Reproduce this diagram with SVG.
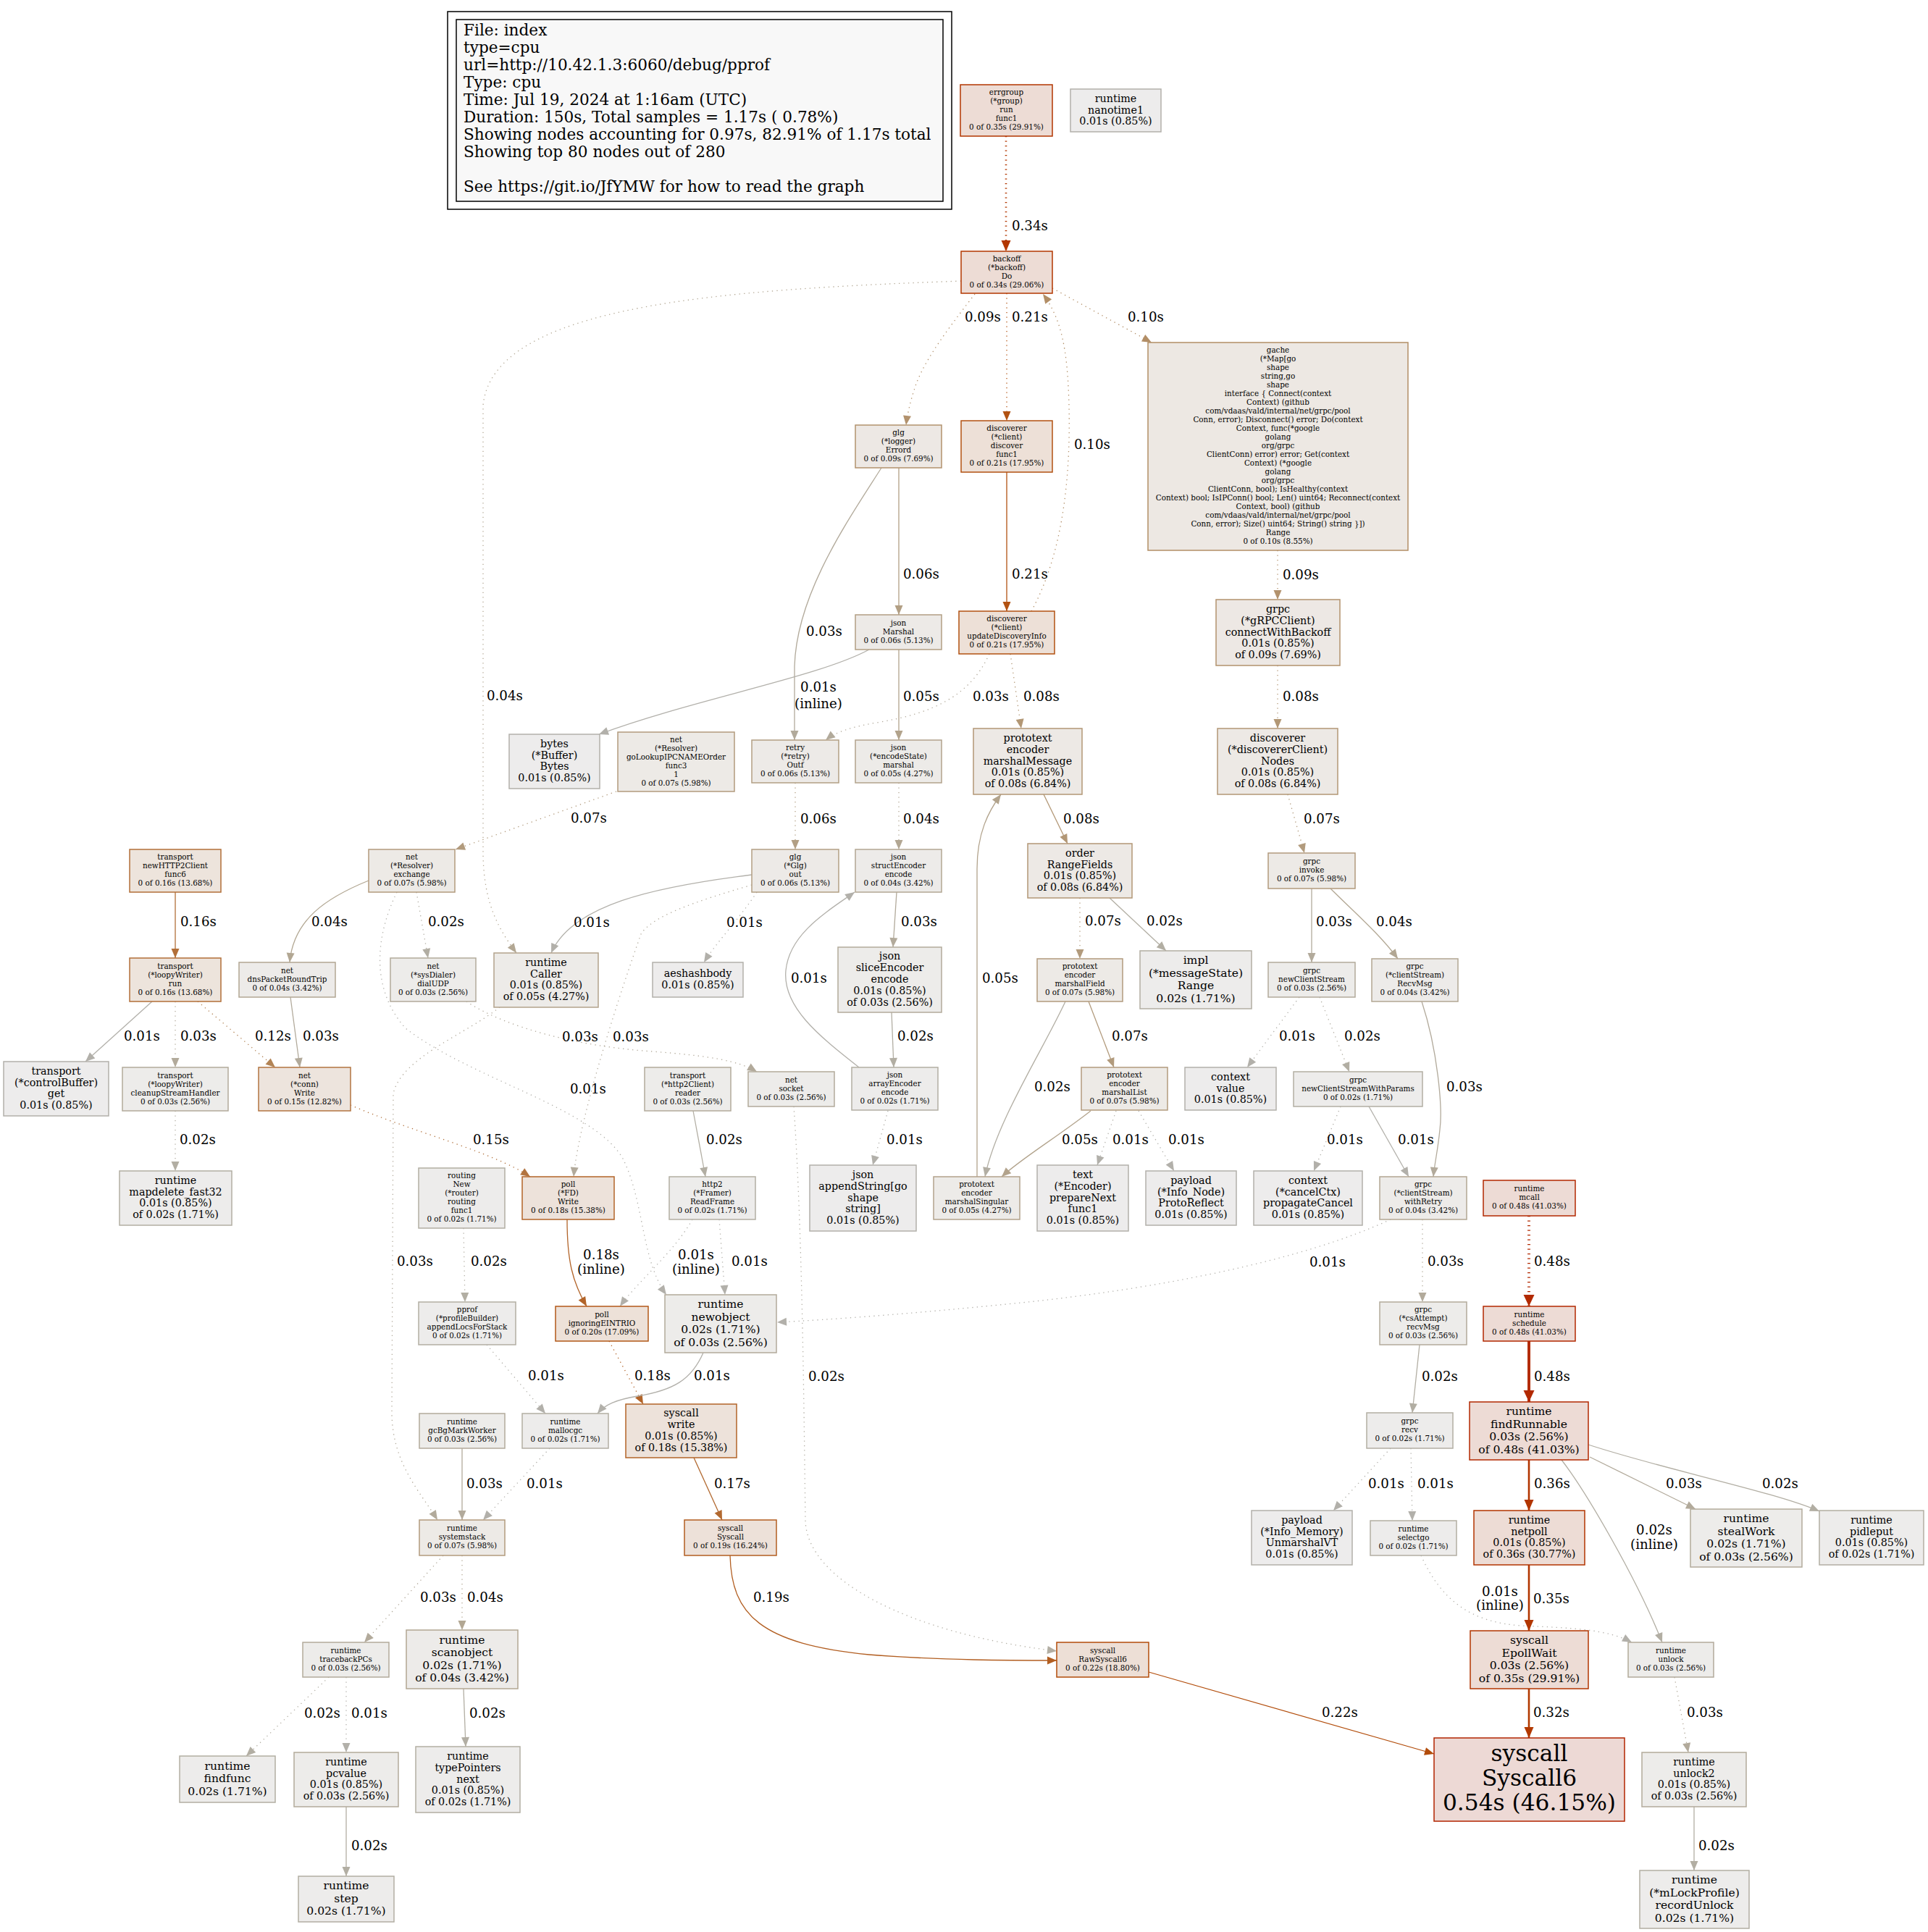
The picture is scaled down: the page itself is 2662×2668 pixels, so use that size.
<svg xmlns="http://www.w3.org/2000/svg" width="2662" height="2668" viewBox="0 0 2662 2668">
<style>
text{font-family:"DejaVu Serif","Liberation Serif",serif;fill:#000}
.n text{text-anchor:middle}
.f8{font-size:10.4px}.f11{font-size:14.3px}.f12{font-size:15.6px}.f24{font-size:31.25px}
.lg{font-size:21.6px}
.l{font-size:18.2px}.lm{font-size:18.2px;text-anchor:middle}
rect{stroke-width:1.5}
.e path{fill:none;stroke-width:1.3}
.e path.d{stroke-dasharray:1.3 5.2}
.e path.p2{stroke-width:2.6}.e path.p3{stroke-width:3.9}
.k54 rect{fill:#edd9d5;stroke:#b22500}.k48 rect{fill:#eddbd5;stroke:#b22900}
.k36 rect{fill:#eddcd5;stroke:#b23500}.k35 rect{fill:#eddcd5;stroke:#b23600}.k34 rect{fill:#eddcd5;stroke:#b23700}
.k22 rect{fill:#eddfd6;stroke:#b24c0a}.k21 rect{fill:#ede0d7;stroke:#b25212}.k20 rect{fill:#ede1d8;stroke:#b25819}
.k19 rect{fill:#ede1d9;stroke:#b25e21}.k18 rect{fill:#ede2da;stroke:#b26429}.k16 rect{fill:#ede4dc;stroke:#b26f38}
.k15 rect{fill:#ede4dd;stroke:#b27440}.k10 rect{fill:#ede8e3;stroke:#b28e66}.k09 rect{fill:#ede8e4;stroke:#b2926d}
.k08 rect{fill:#ede9e5;stroke:#b29775}.k07 rect{fill:#edeae6;stroke:#b29b7d}.k06 rect{fill:#edeae7;stroke:#b29f84}
.k05 rect{fill:#edebe8;stroke:#b2a38c}.k04 rect{fill:#edebe9;stroke:#b2a793}.k03 rect{fill:#edecea;stroke:#b2aa9b}
.k02 rect{fill:#edeceb;stroke:#b2aea3}.k01 rect{fill:#edecec;stroke:#b2b0aa}
.s48{stroke:#b22900}.s36{stroke:#b23500}.s35{stroke:#b23600}.s34{stroke:#b23700}.s32{stroke:#b23900}
.s22{stroke:#b24c0a}.s21{stroke:#b25212}.s19{stroke:#b25e21}.s18{stroke:#b26429}.s17{stroke:#b26930}
.s16{stroke:#b26f38}.s15{stroke:#b27440}.s12{stroke:#b28456}.s10{stroke:#b28e66}.s09{stroke:#b2926d}
.s08{stroke:#b29775}.s07{stroke:#b29b7d}.s06{stroke:#b29f84}.s05{stroke:#b2a38c}.s04{stroke:#b2a793}
.s03{stroke:#b2aa9b}.s02{stroke:#b2aea3}.s01{stroke:#b2b0aa}
</style>
<defs>
<marker id="m48" markerWidth="17" markerHeight="16" refX="16" refY="7.5" orient="auto" markerUnits="userSpaceOnUse" overflow="visible"><path d="M0,0L16,7.5L0,15z" fill="#b22900"/></marker>
<marker id="m36" markerWidth="16" markerHeight="14" refX="15" refY="6.5" orient="auto" markerUnits="userSpaceOnUse" overflow="visible"><path d="M0,0L15,6.5L0,13z" fill="#b23500"/></marker>
<marker id="m35" markerWidth="16" markerHeight="14" refX="15" refY="6.5" orient="auto" markerUnits="userSpaceOnUse" overflow="visible"><path d="M0,0L15,6.5L0,13z" fill="#b23600"/></marker>
<marker id="m34" markerWidth="16" markerHeight="14" refX="15" refY="6.5" orient="auto" markerUnits="userSpaceOnUse" overflow="visible"><path d="M0,0L15,6.5L0,13z" fill="#b23700"/></marker>
<marker id="m32" markerWidth="16" markerHeight="14" refX="15" refY="6.5" orient="auto" markerUnits="userSpaceOnUse" overflow="visible"><path d="M0,0L15,6.5L0,13z" fill="#b23900"/></marker>
<marker id="m22" markerWidth="14" markerHeight="12" refX="13" refY="5.5" orient="auto" markerUnits="userSpaceOnUse" overflow="visible"><path d="M0,0L13,5.5L0,11z" fill="#b24c0a"/></marker>
<marker id="m21" markerWidth="14" markerHeight="12" refX="13" refY="5.5" orient="auto" markerUnits="userSpaceOnUse" overflow="visible"><path d="M0,0L13,5.5L0,11z" fill="#b25212"/></marker>
<marker id="m19" markerWidth="14" markerHeight="12" refX="13" refY="5.5" orient="auto" markerUnits="userSpaceOnUse" overflow="visible"><path d="M0,0L13,5.5L0,11z" fill="#b25e21"/></marker>
<marker id="m18" markerWidth="14" markerHeight="12" refX="13" refY="5.5" orient="auto" markerUnits="userSpaceOnUse" overflow="visible"><path d="M0,0L13,5.5L0,11z" fill="#b26429"/></marker>
<marker id="m17" markerWidth="14" markerHeight="12" refX="13" refY="5.5" orient="auto" markerUnits="userSpaceOnUse" overflow="visible"><path d="M0,0L13,5.5L0,11z" fill="#b26930"/></marker>
<marker id="m16" markerWidth="14" markerHeight="12" refX="13" refY="5.5" orient="auto" markerUnits="userSpaceOnUse" overflow="visible"><path d="M0,0L13,5.5L0,11z" fill="#b26f38"/></marker>
<marker id="m15" markerWidth="14" markerHeight="12" refX="13" refY="5.5" orient="auto" markerUnits="userSpaceOnUse" overflow="visible"><path d="M0,0L13,5.5L0,11z" fill="#b27440"/></marker>
<marker id="m12" markerWidth="14" markerHeight="12" refX="13" refY="5.5" orient="auto" markerUnits="userSpaceOnUse" overflow="visible"><path d="M0,0L13,5.5L0,11z" fill="#b28456"/></marker>
<marker id="m10" markerWidth="14" markerHeight="12" refX="13" refY="5.5" orient="auto" markerUnits="userSpaceOnUse" overflow="visible"><path d="M0,0L13,5.5L0,11z" fill="#b28e66"/></marker>
<marker id="m09" markerWidth="14" markerHeight="12" refX="13" refY="5.5" orient="auto" markerUnits="userSpaceOnUse" overflow="visible"><path d="M0,0L13,5.5L0,11z" fill="#b2926d"/></marker>
<marker id="m08" markerWidth="14" markerHeight="12" refX="13" refY="5.5" orient="auto" markerUnits="userSpaceOnUse" overflow="visible"><path d="M0,0L13,5.5L0,11z" fill="#b29775"/></marker>
<marker id="m07" markerWidth="14" markerHeight="12" refX="13" refY="5.5" orient="auto" markerUnits="userSpaceOnUse" overflow="visible"><path d="M0,0L13,5.5L0,11z" fill="#b29b7d"/></marker>
<marker id="m06" markerWidth="14" markerHeight="12" refX="13" refY="5.5" orient="auto" markerUnits="userSpaceOnUse" overflow="visible"><path d="M0,0L13,5.5L0,11z" fill="#b29f84"/></marker>
<marker id="m05" markerWidth="14" markerHeight="12" refX="13" refY="5.5" orient="auto" markerUnits="userSpaceOnUse" overflow="visible"><path d="M0,0L13,5.5L0,11z" fill="#b2a38c"/></marker>
<marker id="m04" markerWidth="14" markerHeight="12" refX="13" refY="5.5" orient="auto" markerUnits="userSpaceOnUse" overflow="visible"><path d="M0,0L13,5.5L0,11z" fill="#b2a793"/></marker>
<marker id="m03" markerWidth="14" markerHeight="12" refX="13" refY="5.5" orient="auto" markerUnits="userSpaceOnUse" overflow="visible"><path d="M0,0L13,5.5L0,11z" fill="#b2aa9b"/></marker>
<marker id="m02" markerWidth="14" markerHeight="12" refX="13" refY="5.5" orient="auto" markerUnits="userSpaceOnUse" overflow="visible"><path d="M0,0L13,5.5L0,11z" fill="#b2aea3"/></marker>
<marker id="m01" markerWidth="14" markerHeight="12" refX="13" refY="5.5" orient="auto" markerUnits="userSpaceOnUse" overflow="visible"><path d="M0,0L13,5.5L0,11z" fill="#b2b0aa"/></marker>
</defs>
<rect width="2662" height="2668" fill="#fff" stroke="none"/>

<g id="legend">
<rect x="618" y="16" width="696" height="273" fill="#fff" stroke="#000" stroke-width="1.3"/>
<rect x="630" y="27" width="672" height="251" fill="#f8f8f8" stroke="#000" stroke-width="1.3"/>
<text class="lg" x="640" y="49">File: index</text>
<text class="lg" x="640" y="73">type=cpu</text>
<text class="lg" x="640" y="97">url=http://10.42.1.3:6060/debug/pprof</text>
<text class="lg" x="640" y="121">Type: cpu</text>
<text class="lg" x="640" y="145">Time: Jul 19, 2024 at 1:16am (UTC)</text>
<text class="lg" x="640" y="169">Duration: 150s, Total samples = 1.17s ( 0.78%)</text>
<text class="lg" x="640" y="193">Showing nodes accounting for 0.97s, 82.91% of 1.17s total</text>
<text class="lg" x="640" y="217">Showing top 80 nodes out of 280</text>
<text class="lg" x="640" y="265">See https://git.io/JfYMW for how to read the graph</text>
</g>

<g id="edges" class="e">
<g><path class="d p2 s34" marker-end="url(#m34)" d="M1389,188L1389,347"/><text class="l" x="1397" y="318">0.34s</text></g>
<g><path class="d s09" marker-end="url(#m09)" d="M1346,406C1320,440 1280,490 1265,530C1258,550 1253,570 1251,587"/><text class="l" x="1332" y="444">0.09s</text></g>
<g><path class="d s21" marker-end="url(#m21)" d="M1390,405L1390,581"/><text class="l" x="1397" y="444">0.21s</text></g>
<g><path class="d s10" marker-end="url(#m10)" d="M1424,844C1470,760 1478,650 1476,560C1474,480 1465,440 1440,406"/><text class="l" x="1483" y="620">0.10s</text></g>
<g><path class="d s10" marker-end="url(#m10)" d="M1453,398L1590,473"/><text class="l" x="1557" y="444">0.10s</text></g>
<g><path class="d s04" marker-end="url(#m04)" d="M1327,388C1000,400 680,420 667,560L667,1180C668,1250 690,1285 713,1316"/><text class="l" x="672" y="967">0.04s</text></g>
<g><path class="s21" marker-end="url(#m21)" d="M1390,652L1390,844"/><text class="l" x="1397" y="799">0.21s</text></g>
<g><path class="s06" marker-end="url(#m06)" d="M1241,646L1241,849"/><text class="l" x="1247" y="799">0.06s</text></g>
<g><path class="s03" marker-end="url(#m03)" d="M1217,646C1170,720 1100,820 1097,920L1097,1022"/><text class="l" x="1113" y="878">0.03s</text></g>
<g><path class="s01" marker-end="url(#m01)" d="M1200,897C1130,935 960,965 827,1014"/><text class="lm" x="1130" y="955">0.01s</text><text class="lm" x="1130" y="978">(inline)</text></g>
<g><path class="s05" marker-end="url(#m05)" d="M1241,897L1241,1022"/><text class="l" x="1247" y="968">0.05s</text></g>
<g><path class="d s03" marker-end="url(#m03)" d="M1366,903C1340,960 1290,985 1210,998C1180,1003 1155,1010 1140,1022"/><text class="l" x="1343" y="968">0.03s</text></g>
<g><path class="d s08" marker-end="url(#m08)" d="M1395,903L1410,1006"/><text class="l" x="1413" y="968">0.08s</text></g>
<g><path class="d s09" marker-end="url(#m09)" d="M1764,760L1764,828"/><text class="l" x="1771" y="800">0.09s</text></g>
<g><path class="d s08" marker-end="url(#m08)" d="M1764,919L1764,1006"/><text class="l" x="1771" y="968">0.08s</text></g>
<g><path class="d s07" marker-end="url(#m07)" d="M851,1093L629,1173"/><text class="l" x="788" y="1136">0.07s</text></g>
<g><path class="d s06" marker-end="url(#m06)" d="M1098,1081L1098,1173"/><text class="l" x="1105" y="1137">0.06s</text></g>
<g><path class="d s04" marker-end="url(#m04)" d="M1241,1081L1241,1173"/><text class="l" x="1247" y="1137">0.04s</text></g>
<g><path class="s08" marker-end="url(#m08)" d="M1441,1097L1474,1165"/><text class="l" x="1468" y="1137">0.08s</text></g>
<g><path class="d s07" marker-end="url(#m07)" d="M1778,1097L1801,1178"/><text class="l" x="1800" y="1137">0.07s</text></g>
<g><path class="s16" marker-end="url(#m16)" d="M242,1232L242,1323"/><text class="l" x="249" y="1279">0.16s</text></g>
<g><path class="s04" marker-end="url(#m04)" d="M509,1216C450,1240 405,1270 400,1329"/><text class="l" x="430" y="1279">0.04s</text></g>
<g><path class="d s02" marker-end="url(#m02)" d="M575,1232L591,1323"/><text class="l" x="591" y="1279">0.02s</text></g>
<g><path class="d s01" marker-end="url(#m01)" d="M548,1232C515,1300 515,1370 560,1420C650,1490 820,1530 860,1600C890,1660 885,1740 920,1788"/><text class="l" x="787" y="1510">0.01s</text></g>
<g><path class="s01" marker-end="url(#m01)" d="M1038,1208C900,1225 790,1250 761,1316"/><text class="l" x="792" y="1280">0.01s</text></g>
<g><path class="d s01" marker-end="url(#m01)" d="M1045,1232C1020,1270 990,1300 972,1329"/><text class="l" x="1003" y="1280">0.01s</text></g>
<g><path class="d s03" marker-end="url(#m03)" d="M1038,1222C960,1245 900,1265 885,1290C860,1360 800,1540 792,1625"/><text class="l" x="846" y="1438">0.03s</text></g>
<g><path class="s03" marker-end="url(#m03)" d="M1238,1232L1233,1308"/><text class="l" x="1244" y="1279">0.03s</text></g>
<g><path class="s01" marker-end="url(#m01)" d="M1186,1474C1130,1430 1080,1390 1085,1340C1090,1290 1140,1260 1180,1232"/><text class="l" x="1092" y="1357">0.01s</text></g>
<g><path class="d s07" marker-end="url(#m07)" d="M1491,1240L1491,1324"/><text class="l" x="1498" y="1278">0.07s</text></g>
<g><path class="s02" marker-end="url(#m02)" d="M1532,1240L1610,1313"/><text class="l" x="1583" y="1278">0.02s</text></g>
<g><path class="s03" marker-end="url(#m03)" d="M1811,1227L1811,1329"/><text class="l" x="1817" y="1279">0.03s</text></g>
<g><path class="s04" marker-end="url(#m04)" d="M1837,1227C1870,1260 1905,1290 1930,1324"/><text class="l" x="1900" y="1279">0.04s</text></g>
<g><path class="s01" marker-end="url(#m01)" d="M210,1383L118,1466"/><text class="l" x="171" y="1437">0.01s</text></g>
<g><path class="d s03" marker-end="url(#m03)" d="M242,1383L242,1474"/><text class="l" x="249" y="1437">0.03s</text></g>
<g><path class="d s12" marker-end="url(#m12)" d="M273,1383L380,1474"/><text class="l" x="352" y="1437">0.12s</text></g>
<g><path class="s03" marker-end="url(#m03)" d="M401,1377L414,1474"/><text class="l" x="418" y="1437">0.03s</text></g>
<g><path class="d s03" marker-end="url(#m03)" d="M644,1383C700,1420 800,1445 900,1452C980,1458 1020,1465 1045,1480"/><text class="l" x="776" y="1438">0.03s</text></g>
<g><path class="d s03" marker-end="url(#m03)" d="M690,1391C640,1430 555,1460 543,1510L541,1950C541,2020 580,2060 604,2099"/><text class="l" x="548" y="1748">0.03s</text></g>
<g><path class="d s02" marker-end="url(#m02)" d="M242,1534L242,1617"/><text class="l" x="248" y="1580">0.02s</text></g>
<g><path class="d s15" marker-end="url(#m15)" d="M484,1526C560,1560 680,1590 732,1625"/><text class="l" x="653" y="1580">0.15s</text></g>
<g><path class="s02" marker-end="url(#m02)" d="M957,1534L974,1625"/><text class="l" x="975" y="1580">0.02s</text></g>
<g><path class="d s01" marker-end="url(#m01)" d="M1226,1534L1205,1609"/><text class="l" x="1224" y="1580">0.01s</text></g>
<g><path class="s02" marker-end="url(#m02)" d="M1231,1398L1234,1474"/><text class="l" x="1239" y="1437">0.02s</text></g>
<g><path class="s05" marker-end="url(#m05)" d="M1349,1625L1349,1200C1349,1150 1365,1120 1382,1097"/><text class="l" x="1356" y="1357">0.05s</text></g>
<g><path class="s02" marker-end="url(#m02)" d="M1471,1383C1440,1450 1375,1550 1360,1625"/><text class="l" x="1428" y="1507">0.02s</text></g>
<g><path class="s07" marker-end="url(#m07)" d="M1503,1383L1538,1474"/><text class="l" x="1535" y="1437">0.07s</text></g>
<g><path class="s05" marker-end="url(#m05)" d="M1506,1534C1460,1570 1410,1600 1383,1625"/><text class="l" x="1466" y="1580">0.05s</text></g>
<g><path class="d s01" marker-end="url(#m01)" d="M1541,1534L1515,1609"/><text class="l" x="1536" y="1580">0.01s</text></g>
<g><path class="d s01" marker-end="url(#m01)" d="M1572,1534L1621,1617"/><text class="l" x="1613" y="1580">0.01s</text></g>
<g><path class="d s01" marker-end="url(#m01)" d="M1794,1377L1722,1474"/><text class="l" x="1766" y="1437">0.01s</text></g>
<g><path class="d s02" marker-end="url(#m02)" d="M1822,1377L1863,1480"/><text class="l" x="1856" y="1437">0.02s</text></g>
<g><path class="s03" marker-end="url(#m03)" d="M1963,1383C1985,1450 1992,1530 1988,1560C1985,1590 1981,1605 1979,1625"/><text class="l" x="1997" y="1507">0.03s</text></g>
<g><path class="s01" marker-end="url(#m01)" d="M1890,1528L1945,1625"/><text class="l" x="1930" y="1580">0.01s</text></g>
<g><path class="d s01" marker-end="url(#m01)" d="M1851,1528L1814,1617"/><text class="l" x="1832" y="1580">0.01s</text></g>
<g><path class="d s01" marker-end="url(#m01)" d="M1920,1684C1800,1740 1600,1780 1400,1800C1250,1815 1150,1822 1073,1826"/><text class="l" x="1808" y="1749">0.01s</text></g>
<g><path class="d s03" marker-end="url(#m03)" d="M1964,1684L1964,1798"/><text class="l" x="1971" y="1748">0.03s</text></g>
<g><path class="d p3 s48" marker-end="url(#m48)" d="M2111,1679L2111,1804"/><text class="l" x="2118" y="1748">0.48s</text></g>
<g><path class="d s01" marker-end="url(#m01)" d="M956,1684C930,1730 880,1770 856,1804"/><text class="lm" x="961" y="1739">0.01s</text><text class="lm" x="961" y="1759">(inline)</text></g>
<g><path class="d s01" marker-end="url(#m01)" d="M993,1684L1001,1788"/><text class="l" x="1010" y="1748">0.01s</text></g>
<g><path class="s18" marker-end="url(#m18)" d="M783,1684C783,1740 790,1770 810,1804"/><text class="lm" x="830" y="1739">0.18s</text><text class="lm" x="830" y="1759">(inline)</text></g>
<g><path class="d s02" marker-end="url(#m02)" d="M640,1696L642,1798"/><text class="l" x="650" y="1748">0.02s</text></g>
<g><path class="d s01" marker-end="url(#m01)" d="M672,1857L753,1952"/><text class="l" x="729" y="1906">0.01s</text></g>
<g><path class="d s18" marker-end="url(#m18)" d="M841,1852L888,1939"/><text class="l" x="876" y="1906">0.18s</text></g>
<g><path class="s01" marker-end="url(#m01)" d="M971,1868C955,1905 930,1920 880,1928C850,1933 835,1940 825,1952"/><text class="l" x="958" y="1906">0.01s</text></g>
<g><path class="s02" marker-end="url(#m02)" d="M1960,1857L1950,1951"/><text class="l" x="1963" y="1907">0.02s</text></g>
<g><path class="p3 s48" marker-end="url(#m48)" d="M2111,1852L2111,1936"/><text class="l" x="2118" y="1907">0.48s</text></g>
<g><path class="s03" marker-end="url(#m03)" d="M638,2000L638,2099"/><text class="l" x="644" y="2055">0.03s</text></g>
<g><path class="d s01" marker-end="url(#m01)" d="M759,2000L667,2099"/><text class="l" x="727" y="2055">0.01s</text></g>
<g><path class="s17" marker-end="url(#m17)" d="M958,2013L997,2099"/><text class="l" x="986" y="2055">0.17s</text></g>
<g><path class="d s01" marker-end="url(#m01)" d="M1920,2000L1841,2086"/><text class="l" x="1889" y="2055">0.01s</text></g>
<g><path class="d s01" marker-end="url(#m01)" d="M1948,2000L1950,2100"/><text class="l" x="1957" y="2055">0.01s</text></g>
<g><path class="p2 s36" marker-end="url(#m36)" d="M2111,2016L2111,2086"/><text class="l" x="2118" y="2055">0.36s</text></g>
<g><path class="s03" marker-end="url(#m03)" d="M2195,2012L2341,2084"/><text class="l" x="2300" y="2055">0.03s</text></g>
<g><path class="s02" marker-end="url(#m02)" d="M2193,1995C2300,2030 2450,2060 2512,2087"/><text class="l" x="2433" y="2055">0.02s</text></g>
<g><path class="s02" marker-end="url(#m02)" d="M2156,2016C2190,2060 2260,2180 2295,2268"/><text class="lm" x="2284" y="2119">0.02s</text><text class="lm" x="2284" y="2139">(inline)</text></g>
<g><path class="d s03" marker-end="url(#m03)" d="M612,2148L503,2268"/><text class="l" x="580" y="2212">0.03s</text></g>
<g><path class="d s04" marker-end="url(#m04)" d="M638,2148L638,2251"/><text class="l" x="645" y="2212">0.04s</text></g>
<g><path class="d s01" marker-end="url(#m01)" d="M1962,2148C1990,2210 2030,2240 2100,2245C2170,2248 2220,2250 2253,2268"/><text class="lm" x="2071" y="2204">0.01s</text><text class="lm" x="2071" y="2223">(inline)</text></g>
<g><path class="p2 s35" marker-end="url(#m35)" d="M2111,2161L2111,2252"/><text class="l" x="2117" y="2214">0.35s</text></g>
<g><path class="s19" marker-end="url(#m19)" d="M1008,2148C1010,2230 1050,2270 1200,2285C1300,2293 1400,2293 1459,2293"/><text class="l" x="1040" y="2212">0.19s</text></g>
<g><path class="d s02" marker-end="url(#m02)" d="M1096,1528C1108,1700 1110,1950 1112,2100C1114,2180 1250,2255 1459,2280"/><text class="l" x="1116" y="1907">0.02s</text></g>
<g><path class="s22" marker-end="url(#m22)" d="M1586,2309L1980,2422"/><text class="l" x="1825" y="2371">0.22s</text></g>
<g><path class="p2 s32" marker-end="url(#m32)" d="M2111,2332L2111,2400"/><text class="l" x="2117" y="2371">0.32s</text></g>
<g><path class="d s03" marker-end="url(#m03)" d="M2312,2316L2331,2420"/><text class="l" x="2329" y="2371">0.03s</text></g>
<g><path class="s02" marker-end="url(#m02)" d="M2339,2495L2339,2583"/><text class="l" x="2345" y="2555">0.02s</text></g>
<g><path class="d s02" marker-end="url(#m02)" d="M454,2316L340,2425"/><text class="l" x="420" y="2372">0.02s</text></g>
<g><path class="d s01" marker-end="url(#m01)" d="M478,2316L478,2420"/><text class="l" x="485" y="2372">0.01s</text></g>
<g><path class="s02" marker-end="url(#m02)" d="M640,2332L643,2412"/><text class="l" x="648" y="2372">0.02s</text></g>
<g><path class="s02" marker-end="url(#m02)" d="M478,2495L478,2591"/><text class="l" x="485" y="2555">0.02s</text></g>
</g>

<g class="n">
<g id="errgroup" class="k35"><rect x="1326" y="117" width="127" height="71"/><text class="f8" x="1389.5" y="131.4"><tspan x="1389.5">errgroup</tspan><tspan x="1389.5" dy="12">(*group)</tspan><tspan x="1389.5" dy="12">run</tspan><tspan x="1389.5" dy="12">func1</tspan><tspan x="1389.5" dy="12">0 of 0.35s (29.91%)</tspan></text></g>
<g id="nanotime1" class="k01"><rect x="1478" y="123" width="125" height="59"/><text class="f11" x="1540.5" y="140.7"><tspan x="1540.5">runtime</tspan><tspan x="1540.5" dy="15.8">nanotime1</tspan><tspan x="1540.5" dy="15.8">0.01s (0.85%)</tspan></text></g>
<g id="backoff" class="k34"><rect x="1327" y="347" width="126" height="58"/><text class="f8" x="1390" y="360.9"><tspan x="1390">backoff</tspan><tspan x="1390" dy="12">(*backoff)</tspan><tspan x="1390" dy="12">Do</tspan><tspan x="1390" dy="12">0 of 0.34s (29.06%)</tspan></text></g>
<g id="discoverFunc1" class="k21"><rect x="1327" y="581" width="126" height="71"/><text class="f8" x="1390" y="595.4"><tspan x="1390">discoverer</tspan><tspan x="1390" dy="12">(*client)</tspan><tspan x="1390" dy="12">discover</tspan><tspan x="1390" dy="12">func1</tspan><tspan x="1390" dy="12">0 of 0.21s (17.95%)</tspan></text></g>
<g id="gacheRange" class="k10"><rect x="1585" y="473" width="359" height="287"/><text class="f8" x="1764.5" y="487.4"><tspan x="1764.5">gache</tspan><tspan x="1764.5" dy="12">(*Map[go</tspan><tspan x="1764.5" dy="12">shape</tspan><tspan x="1764.5" dy="12">string,go</tspan><tspan x="1764.5" dy="12">shape</tspan><tspan x="1764.5" dy="12">interface { Connect(context</tspan><tspan x="1764.5" dy="12">Context) (github</tspan><tspan x="1764.5" dy="12">com/vdaas/vald/internal/net/grpc/pool</tspan><tspan x="1764.5" dy="12">Conn, error); Disconnect() error; Do(context</tspan><tspan x="1764.5" dy="12">Context, func(*google</tspan><tspan x="1764.5" dy="12">golang</tspan><tspan x="1764.5" dy="12">org/grpc</tspan><tspan x="1764.5" dy="12">ClientConn) error) error; Get(context</tspan><tspan x="1764.5" dy="12">Context) (*google</tspan><tspan x="1764.5" dy="12">golang</tspan><tspan x="1764.5" dy="12">org/grpc</tspan><tspan x="1764.5" dy="12">ClientConn, bool); IsHealthy(context</tspan><tspan x="1764.5" dy="12">Context) bool; IsIPConn() bool; Len() uint64; Reconnect(context</tspan><tspan x="1764.5" dy="12">Context, bool) (github</tspan><tspan x="1764.5" dy="12">com/vdaas/vald/internal/net/grpc/pool</tspan><tspan x="1764.5" dy="12">Conn, error); Size() uint64; String() string }])</tspan><tspan x="1764.5" dy="12">Range</tspan><tspan x="1764.5" dy="12">0 of 0.10s (8.55%)</tspan></text></g>
<g id="glgErrord" class="k09"><rect x="1181" y="587" width="119" height="59"/><text class="f8" x="1240.5" y="601.4"><tspan x="1240.5">glg</tspan><tspan x="1240.5" dy="12">(*logger)</tspan><tspan x="1240.5" dy="12">Errord</tspan><tspan x="1240.5" dy="12">0 of 0.09s (7.69%)</tspan></text></g>
<g id="updateDiscoveryInfo" class="k21"><rect x="1324" y="844" width="132" height="59"/><text class="f8" x="1390" y="858.4"><tspan x="1390">discoverer</tspan><tspan x="1390" dy="12">(*client)</tspan><tspan x="1390" dy="12">updateDiscoveryInfo</tspan><tspan x="1390" dy="12">0 of 0.21s (17.95%)</tspan></text></g>
<g id="jsonMarshal" class="k06"><rect x="1181" y="849" width="119" height="48"/><text class="f8" x="1240.5" y="863.9"><tspan x="1240.5">json</tspan><tspan x="1240.5" dy="12">Marshal</tspan><tspan x="1240.5" dy="12">0 of 0.06s (5.13%)</tspan></text></g>
<g id="connectWithBackoff" class="k09"><rect x="1679" y="828" width="171" height="91"/><text class="f11" x="1764.5" y="845.9"><tspan x="1764.5">grpc</tspan><tspan x="1764.5" dy="15.8">(*gRPCClient)</tspan><tspan x="1764.5" dy="15.8">connectWithBackoff</tspan><tspan x="1764.5" dy="15.8">0.01s (0.85%)</tspan><tspan x="1764.5" dy="15.8">of 0.09s (7.69%)</tspan></text></g>
<g id="discovererNodes" class="k08"><rect x="1681" y="1006" width="166" height="91"/><text class="f11" x="1764" y="1023.9"><tspan x="1764">discoverer</tspan><tspan x="1764" dy="15.8">(*discovererClient)</tspan><tspan x="1764" dy="15.8">Nodes</tspan><tspan x="1764" dy="15.8">0.01s (0.85%)</tspan><tspan x="1764" dy="15.8">of 0.08s (6.84%)</tspan></text></g>
<g id="marshalMessage" class="k08"><rect x="1344" y="1006" width="150" height="91"/><text class="f11" x="1419" y="1023.9"><tspan x="1419">prototext</tspan><tspan x="1419" dy="15.8">encoder</tspan><tspan x="1419" dy="15.8">marshalMessage</tspan><tspan x="1419" dy="15.8">0.01s (0.85%)</tspan><tspan x="1419" dy="15.8">of 0.08s (6.84%)</tspan></text></g>
<g id="retryOutf" class="k06"><rect x="1038" y="1022" width="120" height="59"/><text class="f8" x="1098" y="1036.4"><tspan x="1098">retry</tspan><tspan x="1098" dy="12">(*retry)</tspan><tspan x="1098" dy="12">Outf</tspan><tspan x="1098" dy="12">0 of 0.06s (5.13%)</tspan></text></g>
<g id="encodeStateMarshal" class="k05"><rect x="1181" y="1022" width="119" height="59"/><text class="f8" x="1240.5" y="1036.4"><tspan x="1240.5">json</tspan><tspan x="1240.5" dy="12">(*encodeState)</tspan><tspan x="1240.5" dy="12">marshal</tspan><tspan x="1240.5" dy="12">0 of 0.05s (4.27%)</tspan></text></g>
<g id="bytesBuffer" class="k01"><rect x="703" y="1014" width="125" height="75"/><text class="f11" x="765.5" y="1031.8"><tspan x="765.5">bytes</tspan><tspan x="765.5" dy="15.8">(*Buffer)</tspan><tspan x="765.5" dy="15.8">Bytes</tspan><tspan x="765.5" dy="15.8">0.01s (0.85%)</tspan></text></g>
<g id="goLookup" class="k07"><rect x="853" y="1011" width="161" height="82"/><text class="f8" x="933.5" y="1024.9"><tspan x="933.5">net</tspan><tspan x="933.5" dy="12">(*Resolver)</tspan><tspan x="933.5" dy="12">goLookupIPCNAMEOrder</tspan><tspan x="933.5" dy="12">func3</tspan><tspan x="933.5" dy="12">1</tspan><tspan x="933.5" dy="12">0 of 0.07s (5.98%)</tspan></text></g>
<g id="newHTTP2Client" class="k16"><rect x="179" y="1173" width="126" height="59"/><text class="f8" x="242" y="1187.4"><tspan x="242">transport</tspan><tspan x="242" dy="12">newHTTP2Client</tspan><tspan x="242" dy="12">func6</tspan><tspan x="242" dy="12">0 of 0.16s (13.68%)</tspan></text></g>
<g id="exchange" class="k07"><rect x="509" y="1173" width="119" height="59"/><text class="f8" x="568.5" y="1187.4"><tspan x="568.5">net</tspan><tspan x="568.5" dy="12">(*Resolver)</tspan><tspan x="568.5" dy="12">exchange</tspan><tspan x="568.5" dy="12">0 of 0.07s (5.98%)</tspan></text></g>
<g id="glgOut" class="k06"><rect x="1038" y="1173" width="120" height="59"/><text class="f8" x="1098" y="1187.4"><tspan x="1098">glg</tspan><tspan x="1098" dy="12">(*Glg)</tspan><tspan x="1098" dy="12">out</tspan><tspan x="1098" dy="12">0 of 0.06s (5.13%)</tspan></text></g>
<g id="structEncoder" class="k04"><rect x="1181" y="1173" width="119" height="59"/><text class="f8" x="1240.5" y="1187.4"><tspan x="1240.5">json</tspan><tspan x="1240.5" dy="12">structEncoder</tspan><tspan x="1240.5" dy="12">encode</tspan><tspan x="1240.5" dy="12">0 of 0.04s (3.42%)</tspan></text></g>
<g id="rangeFields" class="k08"><rect x="1419" y="1165" width="144" height="75"/><text class="f11" x="1491" y="1182.8"><tspan x="1491">order</tspan><tspan x="1491" dy="15.8">RangeFields</tspan><tspan x="1491" dy="15.8">0.01s (0.85%)</tspan><tspan x="1491" dy="15.8">of 0.08s (6.84%)</tspan></text></g>
<g id="grpcInvoke" class="k07"><rect x="1751" y="1178" width="120" height="49"/><text class="f8" x="1811" y="1193.4"><tspan x="1811">grpc</tspan><tspan x="1811" dy="12">invoke</tspan><tspan x="1811" dy="12">0 of 0.07s (5.98%)</tspan></text></g>
<g id="loopyRun" class="k16"><rect x="179" y="1323" width="126" height="60"/><text class="f8" x="242" y="1337.9"><tspan x="242">transport</tspan><tspan x="242" dy="12">(*loopyWriter)</tspan><tspan x="242" dy="12">run</tspan><tspan x="242" dy="12">0 of 0.16s (13.68%)</tspan></text></g>
<g id="dnsPacketRoundTrip" class="k04"><rect x="330" y="1329" width="133" height="48"/><text class="f8" x="396.5" y="1343.9"><tspan x="396.5">net</tspan><tspan x="396.5" dy="12">dnsPacketRoundTrip</tspan><tspan x="396.5" dy="12">0 of 0.04s (3.42%)</tspan></text></g>
<g id="dialUDP" class="k03"><rect x="539" y="1323" width="118" height="60"/><text class="f8" x="598" y="1337.9"><tspan x="598">net</tspan><tspan x="598" dy="12">(*sysDialer)</tspan><tspan x="598" dy="12">dialUDP</tspan><tspan x="598" dy="12">0 of 0.03s (2.56%)</tspan></text></g>
<g id="runtimeCaller" class="k05"><rect x="682" y="1316" width="144" height="75"/><text class="f11" x="754" y="1333.8"><tspan x="754">runtime</tspan><tspan x="754" dy="15.8">Caller</tspan><tspan x="754" dy="15.8">0.01s (0.85%)</tspan><tspan x="754" dy="15.8">of 0.05s (4.27%)</tspan></text></g>
<g id="aeshashbody" class="k01"><rect x="901" y="1329" width="125" height="48"/><text class="f11" x="963.5" y="1349.1"><tspan x="963.5">aeshashbody</tspan><tspan x="963.5" dy="15.8">0.01s (0.85%)</tspan></text></g>
<g id="sliceEncoder" class="k03"><rect x="1157" y="1308" width="143" height="90"/><text class="f11" x="1228.5" y="1325.4"><tspan x="1228.5">json</tspan><tspan x="1228.5" dy="15.8">sliceEncoder</tspan><tspan x="1228.5" dy="15.8">encode</tspan><tspan x="1228.5" dy="15.8">0.01s (0.85%)</tspan><tspan x="1228.5" dy="15.8">of 0.03s (2.56%)</tspan></text></g>
<g id="marshalField" class="k07"><rect x="1432" y="1324" width="118" height="59"/><text class="f8" x="1491" y="1338.4"><tspan x="1491">prototext</tspan><tspan x="1491" dy="12">encoder</tspan><tspan x="1491" dy="12">marshalField</tspan><tspan x="1491" dy="12">0 of 0.07s (5.98%)</tspan></text></g>
<g id="implRange" class="k02"><rect x="1574" y="1313" width="154" height="80"/><text class="f12" x="1651" y="1331.2"><tspan x="1651">impl</tspan><tspan x="1651" dy="17.5">(*messageState)</tspan><tspan x="1651" dy="17.5">Range</tspan><tspan x="1651" dy="17.5">0.02s (1.71%)</tspan></text></g>
<g id="newClientStream" class="k03"><rect x="1751" y="1329" width="120" height="48"/><text class="f8" x="1811" y="1343.9"><tspan x="1811">grpc</tspan><tspan x="1811" dy="12">newClientStream</tspan><tspan x="1811" dy="12">0 of 0.03s (2.56%)</tspan></text></g>
<g id="recvMsg" class="k04"><rect x="1894" y="1324" width="119" height="59"/><text class="f8" x="1953.5" y="1338.4"><tspan x="1953.5">grpc</tspan><tspan x="1953.5" dy="12">(*clientStream)</tspan><tspan x="1953.5" dy="12">RecvMsg</tspan><tspan x="1953.5" dy="12">0 of 0.04s (3.42%)</tspan></text></g>
<g id="controlBufferGet" class="k01"><rect x="5" y="1466" width="145" height="75"/><text class="f11" x="77.5" y="1483.8"><tspan x="77.5">transport</tspan><tspan x="77.5" dy="15.8">(*controlBuffer)</tspan><tspan x="77.5" dy="15.8">get</tspan><tspan x="77.5" dy="15.8">0.01s (0.85%)</tspan></text></g>
<g id="cleanupStreamHandler" class="k03"><rect x="169" y="1474" width="146" height="60"/><text class="f8" x="242" y="1488.9"><tspan x="242">transport</tspan><tspan x="242" dy="12">(*loopyWriter)</tspan><tspan x="242" dy="12">cleanupStreamHandler</tspan><tspan x="242" dy="12">0 of 0.03s (2.56%)</tspan></text></g>
<g id="connWrite" class="k15"><rect x="357" y="1474" width="127" height="60"/><text class="f8" x="420.5" y="1488.9"><tspan x="420.5">net</tspan><tspan x="420.5" dy="12">(*conn)</tspan><tspan x="420.5" dy="12">Write</tspan><tspan x="420.5" dy="12">0 of 0.15s (12.82%)</tspan></text></g>
<g id="netSocket" class="k03"><rect x="1033" y="1480" width="119" height="48"/><text class="f8" x="1092.5" y="1494.9"><tspan x="1092.5">net</tspan><tspan x="1092.5" dy="12">socket</tspan><tspan x="1092.5" dy="12">0 of 0.03s (2.56%)</tspan></text></g>
<g id="http2ClientReader" class="k03"><rect x="890" y="1474" width="119" height="60"/><text class="f8" x="949.5" y="1488.9"><tspan x="949.5">transport</tspan><tspan x="949.5" dy="12">(*http2Client)</tspan><tspan x="949.5" dy="12">reader</tspan><tspan x="949.5" dy="12">0 of 0.03s (2.56%)</tspan></text></g>
<g id="arrayEncoder" class="k02"><rect x="1176" y="1474" width="119" height="59"/><text class="f8" x="1235.5" y="1488.4"><tspan x="1235.5">json</tspan><tspan x="1235.5" dy="12">arrayEncoder</tspan><tspan x="1235.5" dy="12">encode</tspan><tspan x="1235.5" dy="12">0 of 0.02s (1.71%)</tspan></text></g>
<g id="marshalList" class="k07"><rect x="1493" y="1474" width="119" height="59"/><text class="f8" x="1552.5" y="1488.4"><tspan x="1552.5">prototext</tspan><tspan x="1552.5" dy="12">encoder</tspan><tspan x="1552.5" dy="12">marshalList</tspan><tspan x="1552.5" dy="12">0 of 0.07s (5.98%)</tspan></text></g>
<g id="contextValue" class="k01"><rect x="1636" y="1474" width="126" height="59"/><text class="f11" x="1699" y="1491.7"><tspan x="1699">context</tspan><tspan x="1699" dy="15.8">value</tspan><tspan x="1699" dy="15.8">0.01s (0.85%)</tspan></text></g>
<g id="newClientStreamWithParams" class="k02"><rect x="1786" y="1480" width="178" height="48"/><text class="f8" x="1875" y="1494.9"><tspan x="1875">grpc</tspan><tspan x="1875" dy="12">newClientStreamWithParams</tspan><tspan x="1875" dy="12">0 of 0.02s (1.71%)</tspan></text></g>
<g id="mapdeleteFast32" class="k02"><rect x="165" y="1617" width="155" height="75"/><text class="f11" x="242.5" y="1634.8"><tspan x="242.5">runtime</tspan><tspan x="242.5" dy="15.8">mapdelete_fast32</tspan><tspan x="242.5" dy="15.8">0.01s (0.85%)</tspan><tspan x="242.5" dy="15.8">of 0.02s (1.71%)</tspan></text></g>
<g id="routingNew" class="k02"><rect x="578" y="1613" width="119" height="83"/><text class="f8" x="637.5" y="1627.4"><tspan x="637.5">routing</tspan><tspan x="637.5" dy="12">New</tspan><tspan x="637.5" dy="12">(*router)</tspan><tspan x="637.5" dy="12">routing</tspan><tspan x="637.5" dy="12">func1</tspan><tspan x="637.5" dy="12">0 of 0.02s (1.71%)</tspan></text></g>
<g id="fdWrite" class="k18"><rect x="721" y="1625" width="127" height="59"/><text class="f8" x="784.5" y="1639.4"><tspan x="784.5">poll</tspan><tspan x="784.5" dy="12">(*FD)</tspan><tspan x="784.5" dy="12">Write</tspan><tspan x="784.5" dy="12">0 of 0.18s (15.38%)</tspan></text></g>
<g id="readFrame" class="k02"><rect x="924" y="1625" width="119" height="59"/><text class="f8" x="983.5" y="1639.4"><tspan x="983.5">http2</tspan><tspan x="983.5" dy="12">(*Framer)</tspan><tspan x="983.5" dy="12">ReadFrame</tspan><tspan x="983.5" dy="12">0 of 0.02s (1.71%)</tspan></text></g>
<g id="appendString" class="k01"><rect x="1118" y="1609" width="147" height="91"/><text class="f11" x="1191.5" y="1626.9"><tspan x="1191.5">json</tspan><tspan x="1191.5" dy="15.8">appendString[go</tspan><tspan x="1191.5" dy="15.8">shape</tspan><tspan x="1191.5" dy="15.8">string]</tspan><tspan x="1191.5" dy="15.8">0.01s (0.85%)</tspan></text></g>
<g id="marshalSingular" class="k05"><rect x="1289" y="1625" width="119" height="59"/><text class="f8" x="1348.5" y="1639.4"><tspan x="1348.5">prototext</tspan><tspan x="1348.5" dy="12">encoder</tspan><tspan x="1348.5" dy="12">marshalSingular</tspan><tspan x="1348.5" dy="12">0 of 0.05s (4.27%)</tspan></text></g>
<g id="prepareNext" class="k01"><rect x="1432" y="1609" width="126" height="91"/><text class="f11" x="1495" y="1626.9"><tspan x="1495">text</tspan><tspan x="1495" dy="15.8">(*Encoder)</tspan><tspan x="1495" dy="15.8">prepareNext</tspan><tspan x="1495" dy="15.8">func1</tspan><tspan x="1495" dy="15.8">0.01s (0.85%)</tspan></text></g>
<g id="infoNode" class="k01"><rect x="1582" y="1617" width="125" height="75"/><text class="f11" x="1644.5" y="1634.8"><tspan x="1644.5">payload</tspan><tspan x="1644.5" dy="15.8">(*Info_Node)</tspan><tspan x="1644.5" dy="15.8">ProtoReflect</tspan><tspan x="1644.5" dy="15.8">0.01s (0.85%)</tspan></text></g>
<g id="propagateCancel" class="k01"><rect x="1731" y="1617" width="150" height="75"/><text class="f11" x="1806" y="1634.8"><tspan x="1806">context</tspan><tspan x="1806" dy="15.8">(*cancelCtx)</tspan><tspan x="1806" dy="15.8">propagateCancel</tspan><tspan x="1806" dy="15.8">0.01s (0.85%)</tspan></text></g>
<g id="withRetry" class="k04"><rect x="1905" y="1625" width="120" height="59"/><text class="f8" x="1965" y="1639.4"><tspan x="1965">grpc</tspan><tspan x="1965" dy="12">(*clientStream)</tspan><tspan x="1965" dy="12">withRetry</tspan><tspan x="1965" dy="12">0 of 0.04s (3.42%)</tspan></text></g>
<g id="mcall" class="k48"><rect x="2048" y="1630" width="127" height="49"/><text class="f8" x="2111.5" y="1645.4"><tspan x="2111.5">runtime</tspan><tspan x="2111.5" dy="12">mcall</tspan><tspan x="2111.5" dy="12">0 of 0.48s (41.03%)</tspan></text></g>
<g id="appendLocsForStack" class="k02"><rect x="578" y="1798" width="134" height="59"/><text class="f8" x="645" y="1812.4"><tspan x="645">pprof</tspan><tspan x="645" dy="12">(*profileBuilder)</tspan><tspan x="645" dy="12">appendLocsForStack</tspan><tspan x="645" dy="12">0 of 0.02s (1.71%)</tspan></text></g>
<g id="ignoringEINTRIO" class="k20"><rect x="767" y="1804" width="128" height="48"/><text class="f8" x="831" y="1818.9"><tspan x="831">poll</tspan><tspan x="831" dy="12">ignoringEINTRIO</tspan><tspan x="831" dy="12">0 of 0.20s (17.09%)</tspan></text></g>
<g id="newobject" class="k03"><rect x="918" y="1788" width="154" height="80"/><text class="f12" x="995" y="1806.2"><tspan x="995">runtime</tspan><tspan x="995" dy="17.5">newobject</tspan><tspan x="995" dy="17.5">0.02s (1.71%)</tspan><tspan x="995" dy="17.5">of 0.03s (2.56%)</tspan></text></g>
<g id="csAttemptRecvMsg" class="k03"><rect x="1905" y="1798" width="120" height="59"/><text class="f8" x="1965" y="1812.4"><tspan x="1965">grpc</tspan><tspan x="1965" dy="12">(*csAttempt)</tspan><tspan x="1965" dy="12">recvMsg</tspan><tspan x="1965" dy="12">0 of 0.03s (2.56%)</tspan></text></g>
<g id="schedule" class="k48"><rect x="2048" y="1804" width="127" height="48"/><text class="f8" x="2111.5" y="1818.9"><tspan x="2111.5">runtime</tspan><tspan x="2111.5" dy="12">schedule</tspan><tspan x="2111.5" dy="12">0 of 0.48s (41.03%)</tspan></text></g>
<g id="gcBgMarkWorker" class="k03"><rect x="579" y="1952" width="118" height="48"/><text class="f8" x="638" y="1966.9"><tspan x="638">runtime</tspan><tspan x="638" dy="12">gcBgMarkWorker</tspan><tspan x="638" dy="12">0 of 0.03s (2.56%)</tspan></text></g>
<g id="mallocgc" class="k02"><rect x="721" y="1952" width="119" height="48"/><text class="f8" x="780.5" y="1966.9"><tspan x="780.5">runtime</tspan><tspan x="780.5" dy="12">mallocgc</tspan><tspan x="780.5" dy="12">0 of 0.02s (1.71%)</tspan></text></g>
<g id="syscallWrite" class="k18"><rect x="864" y="1939" width="153" height="74"/><text class="f11" x="940.5" y="1956.3"><tspan x="940.5">syscall</tspan><tspan x="940.5" dy="15.8">write</tspan><tspan x="940.5" dy="15.8">0.01s (0.85%)</tspan><tspan x="940.5" dy="15.8">of 0.18s (15.38%)</tspan></text></g>
<g id="grpcRecv" class="k02"><rect x="1887" y="1951" width="119" height="49"/><text class="f8" x="1946.5" y="1966.4"><tspan x="1946.5">grpc</tspan><tspan x="1946.5" dy="12">recv</tspan><tspan x="1946.5" dy="12">0 of 0.02s (1.71%)</tspan></text></g>
<g id="findRunnable" class="k48"><rect x="2029" y="1936" width="164" height="80"/><text class="f12" x="2111" y="1954.2"><tspan x="2111">runtime</tspan><tspan x="2111" dy="17.5">findRunnable</tspan><tspan x="2111" dy="17.5">0.03s (2.56%)</tspan><tspan x="2111" dy="17.5">of 0.48s (41.03%)</tspan></text></g>
<g id="systemstack" class="k07"><rect x="579" y="2099" width="118" height="49"/><text class="f8" x="638" y="2114.4"><tspan x="638">runtime</tspan><tspan x="638" dy="12">systemstack</tspan><tspan x="638" dy="12">0 of 0.07s (5.98%)</tspan></text></g>
<g id="syscallSyscall" class="k19"><rect x="945" y="2099" width="127" height="49"/><text class="f8" x="1008.5" y="2114.4"><tspan x="1008.5">syscall</tspan><tspan x="1008.5" dy="12">Syscall</tspan><tspan x="1008.5" dy="12">0 of 0.19s (16.24%)</tspan></text></g>
<g id="infoMemory" class="k01"><rect x="1728" y="2086" width="139" height="75"/><text class="f11" x="1797.5" y="2103.8"><tspan x="1797.5">payload</tspan><tspan x="1797.5" dy="15.8">(*Info_Memory)</tspan><tspan x="1797.5" dy="15.8">UnmarshalVT</tspan><tspan x="1797.5" dy="15.8">0.01s (0.85%)</tspan></text></g>
<g id="selectgo" class="k02"><rect x="1892" y="2100" width="119" height="48"/><text class="f8" x="1951.5" y="2114.9"><tspan x="1951.5">runtime</tspan><tspan x="1951.5" dy="12">selectgo</tspan><tspan x="1951.5" dy="12">0 of 0.02s (1.71%)</tspan></text></g>
<g id="netpoll" class="k36"><rect x="2035" y="2086" width="153" height="75"/><text class="f11" x="2111.5" y="2103.8"><tspan x="2111.5">runtime</tspan><tspan x="2111.5" dy="15.8">netpoll</tspan><tspan x="2111.5" dy="15.8">0.01s (0.85%)</tspan><tspan x="2111.5" dy="15.8">of 0.36s (30.77%)</tspan></text></g>
<g id="stealWork" class="k03"><rect x="2334" y="2084" width="154" height="80"/><text class="f12" x="2411" y="2102.2"><tspan x="2411">runtime</tspan><tspan x="2411" dy="17.5">stealWork</tspan><tspan x="2411" dy="17.5">0.02s (1.71%)</tspan><tspan x="2411" dy="17.5">of 0.03s (2.56%)</tspan></text></g>
<g id="pidleput" class="k02"><rect x="2512" y="2086" width="144" height="75"/><text class="f11" x="2584" y="2103.8"><tspan x="2584">runtime</tspan><tspan x="2584" dy="15.8">pidleput</tspan><tspan x="2584" dy="15.8">0.01s (0.85%)</tspan><tspan x="2584" dy="15.8">of 0.02s (1.71%)</tspan></text></g>
<g id="tracebackPCs" class="k03"><rect x="418" y="2268" width="119" height="48"/><text class="f8" x="477.5" y="2282.9"><tspan x="477.5">runtime</tspan><tspan x="477.5" dy="12">tracebackPCs</tspan><tspan x="477.5" dy="12">0 of 0.03s (2.56%)</tspan></text></g>
<g id="scanobject" class="k04"><rect x="561" y="2251" width="154" height="81"/><text class="f12" x="638" y="2269.7"><tspan x="638">runtime</tspan><tspan x="638" dy="17.5">scanobject</tspan><tspan x="638" dy="17.5">0.02s (1.71%)</tspan><tspan x="638" dy="17.5">of 0.04s (3.42%)</tspan></text></g>
<g id="rawSyscall6" class="k22"><rect x="1459" y="2268" width="127" height="48"/><text class="f8" x="1522.5" y="2282.9"><tspan x="1522.5">syscall</tspan><tspan x="1522.5" dy="12">RawSyscall6</tspan><tspan x="1522.5" dy="12">0 of 0.22s (18.80%)</tspan></text></g>
<g id="epollWait" class="k35"><rect x="2030" y="2252" width="163" height="80"/><text class="f12" x="2111.5" y="2270.2"><tspan x="2111.5">syscall</tspan><tspan x="2111.5" dy="17.5">EpollWait</tspan><tspan x="2111.5" dy="17.5">0.03s (2.56%)</tspan><tspan x="2111.5" dy="17.5">of 0.35s (29.91%)</tspan></text></g>
<g id="unlock" class="k03"><rect x="2248" y="2268" width="118" height="48"/><text class="f8" x="2307" y="2282.9"><tspan x="2307">runtime</tspan><tspan x="2307" dy="12">unlock</tspan><tspan x="2307" dy="12">0 of 0.03s (2.56%)</tspan></text></g>
<g id="findfunc" class="k02"><rect x="248" y="2425" width="132" height="64"/><text class="f12" x="314" y="2443.9"><tspan x="314">runtime</tspan><tspan x="314" dy="17.5">findfunc</tspan><tspan x="314" dy="17.5">0.02s (1.71%)</tspan></text></g>
<g id="pcvalue" class="k03"><rect x="406" y="2420" width="144" height="75"/><text class="f11" x="478" y="2437.8"><tspan x="478">runtime</tspan><tspan x="478" dy="15.8">pcvalue</tspan><tspan x="478" dy="15.8">0.01s (0.85%)</tspan><tspan x="478" dy="15.8">of 0.03s (2.56%)</tspan></text></g>
<g id="typePointersNext" class="k02"><rect x="574" y="2412" width="144" height="91"/><text class="f11" x="646" y="2429.9"><tspan x="646">runtime</tspan><tspan x="646" dy="15.8">typePointers</tspan><tspan x="646" dy="15.8">next</tspan><tspan x="646" dy="15.8">0.01s (0.85%)</tspan><tspan x="646" dy="15.8">of 0.02s (1.71%)</tspan></text></g>
<g id="syscall6" class="k54"><rect x="1980" y="2400" width="263" height="115"/><text class="f24" x="2111.5" y="2432.2"><tspan x="2111.5">syscall</tspan><tspan x="2111.5" dy="34.1">Syscall6</tspan><tspan x="2111.5" dy="34.1">0.54s (46.15%)</tspan></text></g>
<g id="unlock2" class="k03"><rect x="2267" y="2420" width="144" height="75"/><text class="f11" x="2339" y="2437.8"><tspan x="2339">runtime</tspan><tspan x="2339" dy="15.8">unlock2</tspan><tspan x="2339" dy="15.8">0.01s (0.85%)</tspan><tspan x="2339" dy="15.8">of 0.03s (2.56%)</tspan></text></g>
<g id="step" class="k02"><rect x="412" y="2591" width="132" height="63"/><text class="f12" x="478" y="2609.4"><tspan x="478">runtime</tspan><tspan x="478" dy="17.5">step</tspan><tspan x="478" dy="17.5">0.02s (1.71%)</tspan></text></g>
<g id="recordUnlock" class="k02"><rect x="2264" y="2583" width="151" height="80"/><text class="f12" x="2339.5" y="2601.2"><tspan x="2339.5">runtime</tspan><tspan x="2339.5" dy="17.5">(*mLockProfile)</tspan><tspan x="2339.5" dy="17.5">recordUnlock</tspan><tspan x="2339.5" dy="17.5">0.02s (1.71%)</tspan></text></g>
</g>
</svg>
